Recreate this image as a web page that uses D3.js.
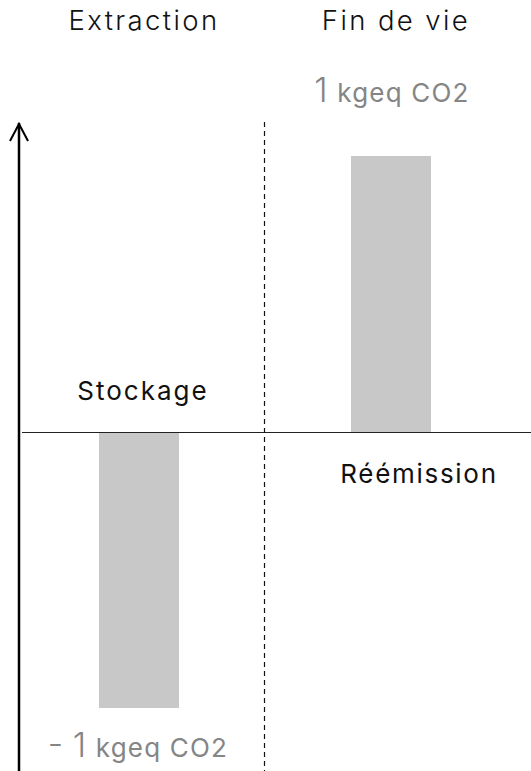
<!DOCTYPE html>
<html>
<head>
<meta charset="utf-8">
<script src="https://cdn.jsdelivr.net/npm/d3@7"></script>
<style>
body{margin:0;background:#fff;}
text{font-family:Inter, "Noto Sans", sans-serif;}
</style>
</head>
<body>
<div id="chart"></div>
<script>
// données
let categories=["Extraction","Fin de vie"];
let values=[-1,1];
let flowLabels=["Stockage","Réémission"];
let unit="kgeq CO2";

let width=531;
let height=771;

let svg=d3.select("#chart").append("svg").attr("width",width).attr("height",height);

let x=d3.scaleBand()
	.domain(categories)
	.range([12,516])
	.paddingInner(0);

let y=d3.scaleLinear()
	.domain([-1,1])
	.range([708,156]);

let barW=80;

// barres
svg.selectAll(".bar")
	.data(values)
	.join("rect")
	.attr("class","bar")
	.attr("x",(d,i)=>x(categories[i])+x.bandwidth()/2-barW/2+1)
	.attr("y",d=>Math.min(y(d),y(0)))
	.attr("width",barW)
	.attr("height",d=>Math.abs(y(d)-y(0)))
	.attr("fill","#c8c8c8");

// ligne zéro
svg.append("line")
	.attr("x1",22).attr("x2",width)
	.attr("y1",y(0)+0.5).attr("y2",y(0)+0.5)
	.attr("stroke","#222").attr("stroke-width",1.2);

// séparateur pointillé
let sep=x(categories[1])+0.5;
svg.append("line")
	.attr("x1",sep).attr("x2",sep)
	.attr("y1",122).attr("y2",height)
	.attr("stroke","#111").attr("stroke-width",1.2)
	.attr("stroke-dasharray","5,4");

// axe vertical avec flèche
svg.append("line")
	.attr("x1",19).attr("x2",19)
	.attr("y1",123).attr("y2",height)
	.attr("stroke","#000").attr("stroke-width",2.5);
svg.append("path")
	.attr("d","M10,141 L19,124 L28,141")
	.attr("fill","none").attr("stroke","#000").attr("stroke-width",2);

// titres
svg.selectAll(".head")
	.data(categories)
	.join("text")
	.attr("class","head")
	.attr("x",(d,i)=>x(d)+x.bandwidth()/2+(i==0?6:6))
	.attr("y",30)
	.attr("text-anchor","middle")
	.attr("font-size",27.5)
	.attr("font-weight",300)
	.attr("letter-spacing",2.4)
	.attr("fill","#111")
	.text(d=>d);

// étiquettes de flux
svg.append("text")
	.attr("x",x(categories[0])+x.bandwidth()/2+5)
	.attr("y",y(0)-32)
	.attr("text-anchor","middle")
	.attr("font-size",26)
	.attr("letter-spacing",2)
	.attr("fill","#111")
	.text(flowLabels[0]);
svg.append("text")
	.attr("x",x(categories[1])+x.bandwidth()/2+29)
	.attr("y",y(0)+51)
	.attr("text-anchor","middle")
	.attr("font-size",26)
	.attr("letter-spacing",1.7)
	.attr("fill","#111")
	.text(flowLabels[1]);

// valeurs
function valueLabel(v,i,ypos){
	let t=svg.append("text")
		.attr("x",x(categories[i])+x.bandwidth()/2+(v<0?0:2))
		.attr("y",ypos)
		.attr("text-anchor","middle")
		.attr("fill","#858585");
	t.append("tspan").attr("font-size",34).attr("font-weight",300)
		.text((v<0?"- ":"")+Math.abs(v)+" ");
	t.append("tspan").attr("font-size",26).attr("letter-spacing",1.2).text(unit);
}
valueLabel(values[0],0,y(values[0])+49);
valueLabel(values[1],1,y(values[1])-54);
</script>
</body>
</html>
